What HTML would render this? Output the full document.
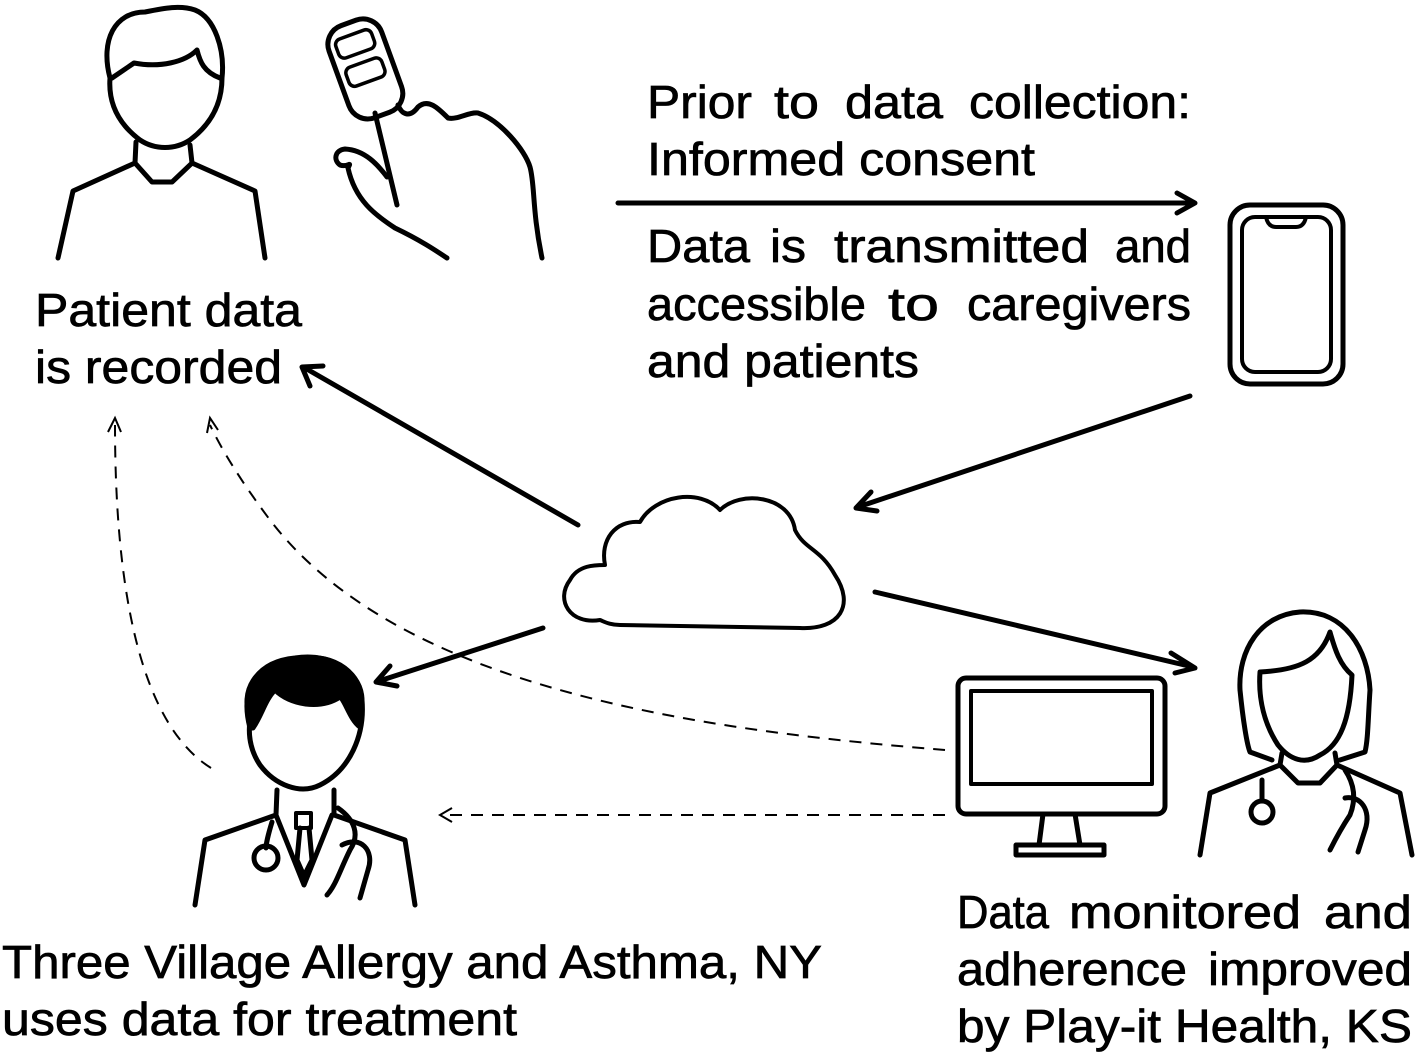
<!DOCTYPE html><html><head><style>html,body{margin:0;padding:0;background:#fff}svg{display:block}text{font-family:"Liberation Sans",Arial,sans-serif;font-size:46px;fill:#000;stroke:#000;stroke-width:0.7}</style></head><body>
<svg width="1417" height="1056" viewBox="0 0 1417 1056" xmlns="http://www.w3.org/2000/svg">
<g fill="none" stroke="#000" stroke-width="5" stroke-linejoin="round" stroke-linecap="round">
<path d="M110,78 C100,40 115,12 145,12 C165,8 180,5 195,10 C215,18 225,50 222,78 C222,105 210,125 190,140 C175,150 155,150 140,140 C120,125 108,105 110,78 Z"/>
<path d="M112,78 L134,63 C160,68 185,62 197,50 C200,62 204,72 220,78"/>
<path d="M136,142 L135,163 L152,182 L172,182 L192,163 L190,145"/>
<path d="M135,163 L73,191 L58,258 M192,163 L255,191 L265,258"/>
<g transform="rotate(-20 365 68)"><rect x="337" y="20" width="56" height="98" rx="20"/><rect x="345" y="32" width="38" height="20" rx="6" stroke-width="3.5"/><rect x="345" y="62" width="38" height="20" rx="6" stroke-width="3.5"/></g>
<path d="M375,113 L397,205"/>
<path d="M398,105 C402,115 410,118 418,107 C428,98 438,108 448,118 C458,120 468,112 478,113 C500,120 525,150 530,167 C535,185 532,210 542,258"/>
<path d="M387,177 C378,165 365,150 345,149 C335,150 333,160 340,165 C348,168 352,160 348,168 C355,200 375,215 395,228 C420,240 435,250 447,258"/>
<rect x="1230" y="205" width="113" height="179" rx="20"/>
<rect x="1242" y="217" width="89" height="155" rx="13" stroke-width="4"/>
<path d="M1266,217 Q1268,227 1276,227 L1296,227 Q1304,227 1306,217" stroke-width="4"/>
<path d="M600,620 C570,625 555,600 570,580 C578,565 595,565 605,565 C600,540 615,520 640,522 C655,495 700,488 720,510 C740,490 790,495 795,530 C805,550 820,548 835,575 C855,605 840,630 800,628 L620,625 C610,625 605,622 600,620 Z" stroke-width="4"/>
<path d="M250,720 C240,690 255,665 290,660 C330,650 360,670 362,700 C365,735 350,770 320,785 C300,795 275,785 260,765 C250,750 248,735 250,720 Z" fill="#fff"/>
<path d="M250,728 C240,690 255,662 295,658 C335,652 362,675 362,700 L360,727 C350,720 345,700 340,697 C320,710 290,705 275,690 C265,700 262,715 253,728 Z" fill="#000"/>
<path d="M277,790 L276,815 L205,840 L195,905 M334,790 L334,815 L405,840 L415,905"/>
<path d="M276,815 L304,885 L332,815"/>
<rect x="296" y="813" width="15" height="15" stroke-width="4"/>
<path d="M300,828 L297,860 L304,876 L312,860 L309,828"/>
<path d="M272,822 C268,835 266,845 266,848"/><circle cx="266" cy="858" r="12"/>
<path d="M338,808 C355,820 360,835 350,850 C340,870 336,885 327,895 M342,845 C360,835 375,850 368,870 L360,898"/>
<rect x="958" y="678" width="207" height="136" rx="8"/>
<rect x="971" y="691" width="181" height="93" stroke-width="4"/>
<path d="M1043,814 L1039,845 M1075,814 L1080,845"/>
<rect x="1016" y="845" width="88" height="10"/>
<path d="M1240,690 C1238,650 1260,615 1300,612 C1345,610 1368,650 1370,690 C1368,720 1368,740 1365,752 L1340,760 M1240,690 C1243,720 1247,745 1250,752 L1272,760"/>
<path d="M1260,672 C1300,670 1320,660 1330,632 C1335,650 1340,665 1352,675 C1350,720 1340,745 1320,755 C1305,765 1290,760 1278,745 C1265,725 1258,700 1260,672 Z"/>
<path d="M1282,753 L1280,765 L1298,783 L1320,783 L1337,765 L1335,753"/>
<path d="M1280,765 L1210,793 L1200,855 M1337,765 L1400,793 L1412,855"/>
<path d="M1262,780 L1262,800"/><circle cx="1262" cy="812" r="11"/>
<path d="M1345,770 C1355,785 1356,800 1350,815 C1340,830 1335,840 1330,850 M1345,798 C1360,795 1372,810 1365,830 L1358,852"/>
<path d="M618,203 L1193,203 M1177,193 L1195,203 L1177,213"/>
<path d="M1190,396 L858,507 M871,492 L856,508 L877,511"/>
<path d="M578,525 L305,368 M310,386 L302,367 L323,366"/>
<path d="M543,628 L379,681 M390,666 L376,682 L397,686"/>
<path d="M875,592 L1193,667 M1171,653 L1195,668 L1175,673"/>
</g>
<g fill="none" stroke="#000" stroke-width="2" stroke-dasharray="12,9">
<path d="M211,768 C150,730 115,620 115,425"/>
<path d="M945,750 C700,730 400,690 270,520 C240,480 222,450 210,425"/>
<path d="M945,815 L445,815"/>
</g>
<g fill="none" stroke="#000" stroke-width="2">
<path d="M108,432 L115,418 L121,432"/><path d="M207,433 L210,418 L218,430"/><path d="M452,808 L440,815 L452,822"/>
</g>
<text x="35" y="326" textLength="267" lengthAdjust="spacingAndGlyphs">Patient data</text>
<text x="35" y="383" textLength="247" lengthAdjust="spacingAndGlyphs">is recorded</text>
<text x="647" y="118" textLength="105" lengthAdjust="spacingAndGlyphs">Prior</text>
<text x="774" y="118" textLength="45" lengthAdjust="spacingAndGlyphs">to</text>
<text x="845" y="118" textLength="98" lengthAdjust="spacingAndGlyphs">data</text>
<text x="969" y="118" textLength="222" lengthAdjust="spacingAndGlyphs">collection:</text>
<text x="647" y="175" textLength="388" lengthAdjust="spacingAndGlyphs">Informed consent</text>
<text x="647" y="262" textLength="103" lengthAdjust="spacingAndGlyphs">Data</text>
<text x="770" y="262" textLength="36" lengthAdjust="spacingAndGlyphs">is</text>
<text x="834" y="262" textLength="255" lengthAdjust="spacingAndGlyphs">transmitted</text>
<text x="1115" y="262" textLength="76" lengthAdjust="spacingAndGlyphs">and</text>
<text x="647" y="320" textLength="219" lengthAdjust="spacingAndGlyphs">accessible</text>
<text x="888" y="320" textLength="51" lengthAdjust="spacingAndGlyphs">to</text>
<text x="967" y="320" textLength="224" lengthAdjust="spacingAndGlyphs">caregivers</text>
<text x="647" y="377" textLength="272" lengthAdjust="spacingAndGlyphs">and patients</text>
<text x="2" y="978" textLength="820" lengthAdjust="spacingAndGlyphs">Three Village Allergy and Asthma, NY</text>
<text x="2" y="1035" textLength="515" lengthAdjust="spacingAndGlyphs">uses data for treatment</text>
<text x="957" y="928" textLength="92" lengthAdjust="spacingAndGlyphs">Data</text>
<text x="1069" y="928" textLength="232" lengthAdjust="spacingAndGlyphs">monitored</text>
<text x="1324" y="928" textLength="88" lengthAdjust="spacingAndGlyphs">and</text>
<text x="957" y="985" textLength="230" lengthAdjust="spacingAndGlyphs">adherence</text>
<text x="1208" y="985" textLength="204" lengthAdjust="spacingAndGlyphs">improved</text>
<text x="957" y="1042" textLength="455" lengthAdjust="spacingAndGlyphs">by Play-it Health, KS</text>
</svg></body></html>
